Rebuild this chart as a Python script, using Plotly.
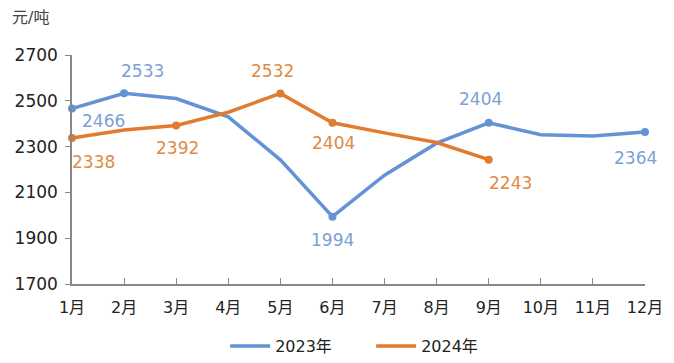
import plotly.graph_objects as go

months = ["1月", "2月", "3月", "4月", "5月", "6月", "7月", "8月", "9月", "10月", "11月", "12月"]
month_num = list(range(1, 13))
y2023 = [2466, 2533, 2510, 2430, 2242, 1994, 2175, 2315, 2404, 2352, 2346, 2364]
y2024 = [2338, 2372, 2392, 2450, 2532, 2404, 2360, 2318, 2243]
labeled_2023 = [0, 1, 5, 8, 11]
labeled_2024 = [0, 2, 4, 5, 8]
yticks = [1700, 1900, 2100, 2300, 2500, 2700]

# label pixel offsets (dx, dy) for each labeled point
off_2023 = [(31, 12), (18, -22), (0, 23), (-8, -24), (-10, 26)]
off_2024 = [(21, 24), (1, 22), (-8, -22), (1, 20), (22, 23)]

BLUE = "#6393d5"
ORANGE = "#e07b2f"
BLUE_T = "#7c9fd4"
ORANGE_T = "#e08a44"
FONT = "DejaVu Sans, Noto Sans CJK SC, sans-serif"

fig = go.Figure()
fig.add_trace(go.Scatter(x=month_num, y=y2023, mode="lines", name="2023年",
                         line=dict(color=BLUE, width=3.5)))
fig.add_trace(go.Scatter(x=month_num[:len(y2024)], y=y2024, mode="lines", name="2024年",
                         line=dict(color=ORANGE, width=3.5)))
fig.add_trace(go.Scatter(x=[month_num[i] for i in labeled_2023], y=[y2023[i] for i in labeled_2023],
                         mode="markers", marker=dict(color=BLUE, size=8), showlegend=False,
                         cliponaxis=False, hoverinfo="skip"))
fig.add_trace(go.Scatter(x=[month_num[i] for i in labeled_2024], y=[y2024[i] for i in labeled_2024],
                         mode="markers", marker=dict(color=ORANGE, size=8), showlegend=False,
                         cliponaxis=False, hoverinfo="skip"))

anns = []
for idx, (dx, dy) in zip(labeled_2023, off_2023):
    anns.append(dict(x=month_num[idx], y=y2023[idx], text=str(y2023[idx]), showarrow=False,
                     xshift=dx, yshift=-dy, font=dict(size=17, color=BLUE_T, family=FONT)))
for idx, (dx, dy) in zip(labeled_2024, off_2024):
    anns.append(dict(x=month_num[idx], y=y2024[idx], text=str(y2024[idx]), showarrow=False,
                     xshift=dx, yshift=-dy, font=dict(size=17, color=ORANGE_T, family=FONT)))
anns.append(dict(xref="paper", yref="paper", x=-0.108, y=1.162, xanchor="left", yanchor="middle",
                 text="元/吨", showarrow=False, font=dict(size=16, color="#444", family=FONT)))

fig.update_layout(
    width=658, height=347,
    margin=dict(l=64, r=21, t=47, b=71, autoexpand=False),
    paper_bgcolor="white", plot_bgcolor="white",
    font=dict(family=FONT, color="#222"),
    annotations=anns,
    showlegend=True,
    legend=dict(orientation="h", x=0.33, xref="container", xanchor="left",
                y=0.026, yref="container", yanchor="middle",
                font=dict(size=16, color="#222"), itemwidth=40, entrywidth=91, tracegroupgap=0),
    xaxis=dict(range=[1, 12], tickmode="array", tickvals=month_num, ticktext=months,
               showgrid=False, zeroline=False, showline=True, linecolor="#888", linewidth=1.5,
               ticks="inside", ticklen=6, tickcolor="#888", tickwidth=1.2, automargin=False,
               tickfont=dict(size=16, color="#222"), ticklabelstandoff=8),
    yaxis=dict(range=[1700, 2700], tickmode="array", tickvals=yticks,
               showgrid=False, zeroline=False, showline=True, linecolor="#888", linewidth=1.5,
               ticks="outside", ticklen=5, tickcolor="#888", tickwidth=1.2, automargin=False,
               tickfont=dict(size=17, color="#222"), ticklabelstandoff=4),
)

fig.write_html("out.html")
